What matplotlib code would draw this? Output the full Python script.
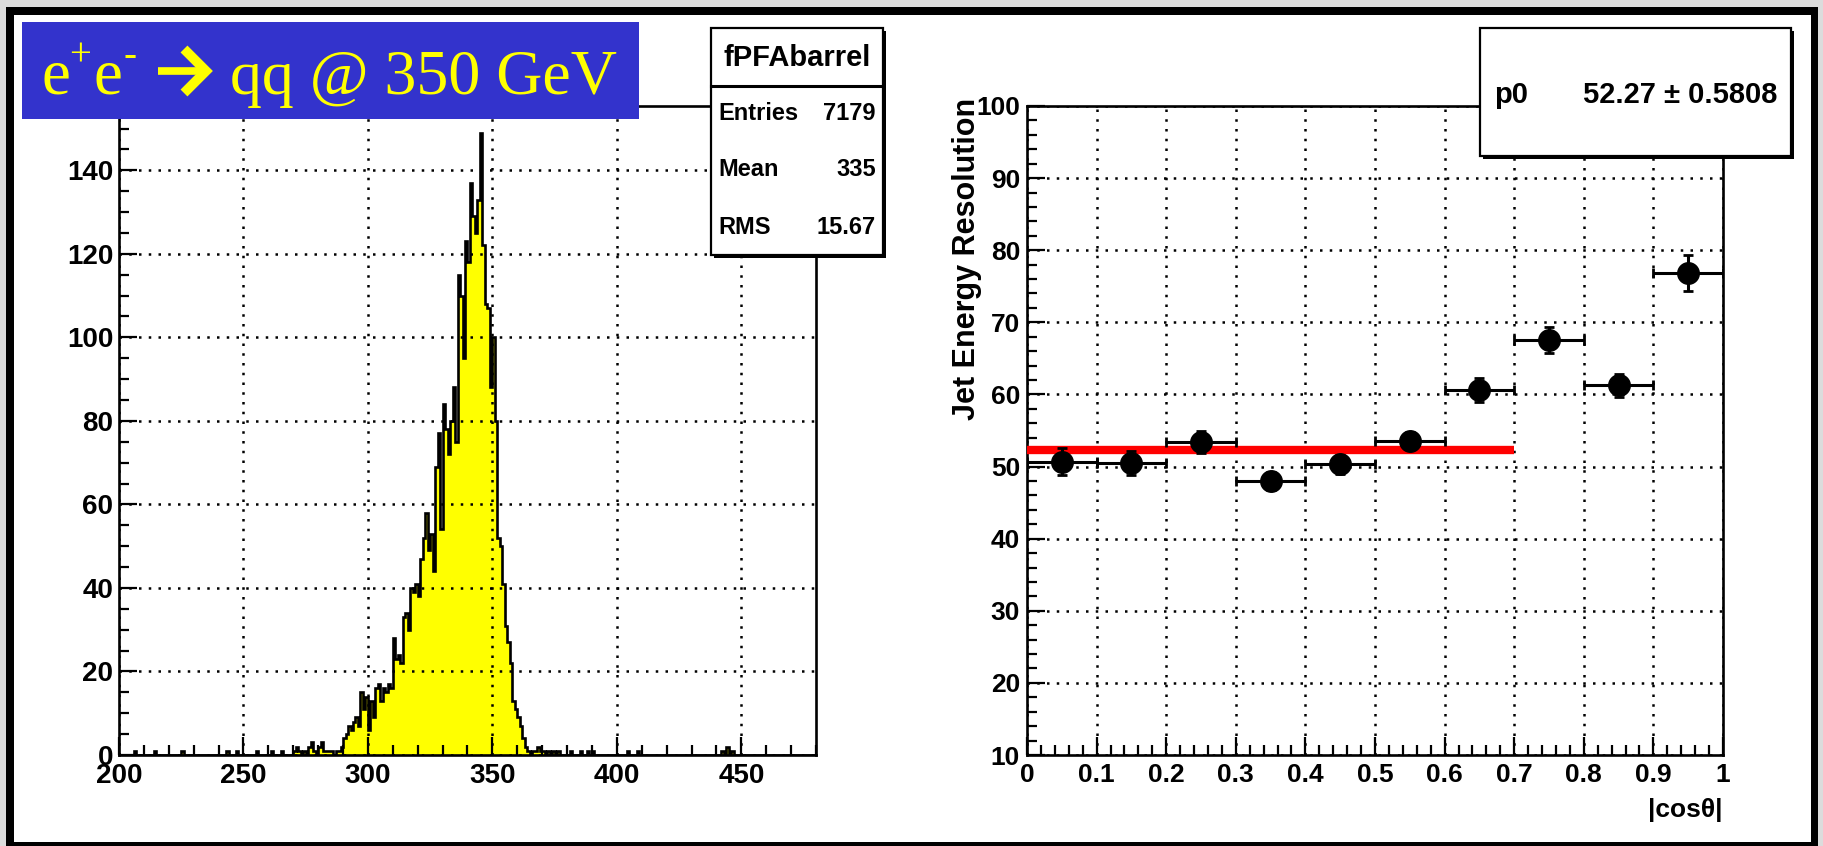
import numpy as np
import matplotlib
matplotlib.use("Agg")
import matplotlib.pyplot as plt
from matplotlib.patches import Rectangle
from matplotlib.lines import Line2D
from matplotlib.ticker import MultipleLocator, FuncFormatter

# ---------------- data ----------------
# left: histogram of reconstructed energy (1 GeV bins), main block
core_start = 284
core_counts = [1, 1, 0, 1, 1, 2, 4, 5, 7, 6, 8, 9, 7, 15, 11, 14, 6, 13, 9, 16,
               17, 13, 16, 15, 17, 16, 28, 23, 24, 22, 33, 34, 30, 40, 39, 41, 38, 47, 52, 58,
               49, 53, 44, 69, 77, 54, 84, 78, 72, 80, 88, 75, 115, 110, 95, 123, 118, 137, 129, 125,
               133, 149, 122, 108, 107, 88, 100, 80, 52, 50, 41, 31, 27, 22, 13, 11, 9, 7, 4, 2,
               1, 0, 1]
# scattered low-count bins outside the peak
tail_bins = [206, 214, 225, 243, 247, 255, 261, 265, 270, 271, 272, 274, 276, 277, 278, 280,
             281, 282, 283, 367, 368, 369, 370, 372, 374, 376, 381, 385, 388, 390, 404, 408,
             442, 444, 446]
tail_counts = [1, 1, 1, 1, 1, 1, 1, 1, 1, 2, 1, 1, 2, 3, 1, 2,
               3, 1, 1, 1, 2, 1, 1, 1, 1, 1, 1, 1, 1, 1, 1, 1,
               1, 2, 1]
hist_lo, hist_hi = 200, 480

stats_title = "fPFAbarrel"
stats_rows = [("Entries", "7179"), ("Mean", "335"), ("RMS", "15.67")]

# right: jet energy resolution vs |cos theta|
cos_centers = [0.05, 0.15, 0.25, 0.35, 0.45, 0.55, 0.65, 0.75, 0.85, 0.95]
cos_halfwidth = [0.05] * 10
resolution = [50.7, 50.5, 53.4, 48.0, 50.3, 53.6, 60.6, 67.6, 61.3, 76.8]
resolution_err = [1.9, 1.7, 1.5, 1.2, 1.3, 1.2, 1.7, 1.8, 1.6, 2.5]
fit_p0 = 52.27
fit_p0_err = 0.5808
fit_range = [0.0, 0.7]

# ---------------- figure ----------------
W, H = 1824, 846
fig = plt.figure(figsize=(W / 100, H / 100), dpi=100)
fig.patch.set_facecolor("#dcdcdc")

def fx(px):
    return px / W

def fy(py):
    return 1 - py / H

# black frame and white canvas (behind everything)
fig.patches.append(Rectangle((fx(6), fy(846)), fx(1818) - fx(6), fy(7) - fy(846),
                             transform=fig.transFigure, facecolor="black", edgecolor="none", zorder=-20))
fig.patches.append(Rectangle((fx(14), fy(842)), fx(1811) - fx(14), fy(15) - fy(842),
                             transform=fig.transFigure, facecolor="white", edgecolor="none", zorder=-19))

FONT = "Liberation Sans"
grid_style = dict(color="black", linestyle=(0, (1, 2.9)), linewidth=1.8)

def style_axes(ax):
    for s in ax.spines.values():
        s.set_linewidth(1.9)
    ax.tick_params(which="both", direction="in", top=False, right=False, width=1.6)
    ax.tick_params(which="major", length=13)
    ax.tick_params(which="minor", length=7)
    ax.grid(True, which="major", **grid_style)
    ax.set_axisbelow(False)

fmt = FuncFormatter(lambda v, p: f"{v:g}")

# ---------------- left panel ----------------
axL = fig.add_axes([fx(119), fy(755), fx(816) - fx(119), fy(106) - fy(755)])
edges = np.arange(hist_lo, hist_hi + 1, 1)
counts = np.zeros(len(edges) - 1)
counts[core_start - hist_lo: core_start - hist_lo + len(core_counts)] = core_counts
for b, c in zip(tail_bins, tail_counts):
    counts[b - hist_lo] = c
axL.stairs(counts, edges, fill=True, color="#ffff00", zorder=2)
axL.stairs(counts, edges, fill=False, color="black", linewidth=1.9, zorder=3)
axL.set_xlim(hist_lo, hist_hi)
axL.set_ylim(0, 155.4)
axL.xaxis.set_major_locator(MultipleLocator(50))
axL.xaxis.set_minor_locator(MultipleLocator(10))
axL.yaxis.set_major_locator(MultipleLocator(20))
axL.yaxis.set_minor_locator(MultipleLocator(5))
style_axes(axL)
axL.tick_params(axis="both", labelsize=20, pad=6)
axL.tick_params(axis="y", pad=4)
axL.xaxis.set_major_formatter(fmt)
axL.yaxis.set_major_formatter(fmt)
for lab in axL.get_xticklabels() + axL.get_yticklabels():
    lab.set_fontfamily(FONT)
    lab.set_fontweight("bold")

# ---------------- right panel ----------------
axR = fig.add_axes([fx(1027), fy(755), fx(1723) - fx(1027), fy(106) - fy(755)])
axR.plot(fit_range, [fit_p0, fit_p0], color="#ff0000", linewidth=6, zorder=3,
         solid_capstyle="butt")
axR.errorbar(cos_centers, resolution, xerr=cos_halfwidth, yerr=resolution_err,
             fmt="o", color="black", markersize=15.5, elinewidth=2.2, capsize=3.4,
             capthick=2.0, zorder=4)
axR.set_xlim(0, 1)
axR.set_ylim(10, 100)
axR.xaxis.set_major_locator(MultipleLocator(0.1))
axR.xaxis.set_minor_locator(MultipleLocator(0.02))
axR.yaxis.set_major_locator(MultipleLocator(10))
axR.yaxis.set_minor_locator(MultipleLocator(2))
style_axes(axR)
axR.tick_params(axis="both", labelsize=19, pad=6)
axR.tick_params(axis="y", pad=5)
axR.xaxis.set_major_formatter(fmt)
axR.yaxis.set_major_formatter(fmt)
for lab in axR.get_xticklabels() + axR.get_yticklabels():
    lab.set_fontfamily(FONT)
    lab.set_fontweight("bold")

fig.text(fx(1723), fy(810), "|cosθ|", ha="right", va="center", fontsize=19,
         fontweight="bold", family=FONT)
fig.text(fx(967), fy(98), "Jet Energy Resolution", rotation=90, ha="center", va="top",
         fontsize=22, fontweight="bold", family=FONT)

# ---------------- stat boxes ----------------
def box(x0, y0, x1, y1):
    fig.patches.append(Rectangle((fx(x0 + 3), fy(y1 + 3)), fx(x1) - fx(x0), fy(y0) - fy(y1),
                                 transform=fig.transFigure, facecolor="black",
                                 edgecolor="none", zorder=5))
    fig.patches.append(Rectangle((fx(x0), fy(y1)), fx(x1) - fx(x0), fy(y0) - fy(y1),
                                 transform=fig.transFigure, facecolor="white",
                                 edgecolor="black", linewidth=1.6, zorder=6))

box(711, 28, 883, 255)
fig.add_artist(Line2D([fx(711), fx(883)], [fy(86), fy(86)], transform=fig.transFigure,
                      color="black", linewidth=2.2, zorder=7))
fig.text(fx(797), fy(58), stats_title, ha="center", va="center", fontsize=21,
         fontweight="bold", family=FONT, zorder=8)
for (name, val), yy in zip(stats_rows, [114, 170, 228]):
    fig.text(fx(718), fy(yy), name, ha="left", va="center", fontsize=17,
             fontweight="bold", family=FONT, zorder=8)
    fig.text(fx(876), fy(yy), val, ha="right", va="center", fontsize=17,
             fontweight="bold", family=FONT, zorder=8)

box(1480, 28, 1791, 156)
fig.text(fx(1494), fy(95), "p0", ha="left", va="center", fontsize=21,
         fontweight="bold", family=FONT, zorder=8)
fig.text(fx(1777), fy(95), f"{fit_p0:.2f} ± {fit_p0_err:.4f}", ha="right", va="center",
         fontsize=21, fontweight="bold", family=FONT, zorder=8)

# ---------------- title banner ----------------
fig.patches.append(Rectangle((fx(22), fy(119)), fx(639) - fx(22), fy(22) - fy(119),
                             transform=fig.transFigure, facecolor="#3333cc",
                             edgecolor="none", zorder=9))
SERIF = "Liberation Serif"
YEL = "#ffff00"
base = fy(94)
fig.text(fx(42), base, "e", ha="left", va="baseline", fontsize=47, color=YEL,
         family=SERIF, zorder=10)
fig.text(fx(69), fy(66), "+", ha="left", va="baseline", fontsize=28, color=YEL,
         family=SERIF, zorder=10)
fig.text(fx(94), base, "e", ha="left", va="baseline", fontsize=47, color=YEL,
         family=SERIF, zorder=10)
fig.text(fx(124), fy(66), "-", ha="left", va="baseline", fontsize=28, color=YEL,
         family=SERIF, zorder=10)
# bold arrow
fig.add_artist(Line2D([fx(158), fx(203)], [fy(71), fy(71)], transform=fig.transFigure,
                      color=YEL, linewidth=5.5, solid_capstyle="butt", zorder=10))
fig.add_artist(Line2D([fx(184), fx(206), fx(184)], [fy(49), fy(71), fy(93)],
                      transform=fig.transFigure, color=YEL, linewidth=7,
                      solid_joinstyle="miter", solid_capstyle="butt", zorder=10))
fig.text(fx(230), base, "qq @ 350 GeV", ha="left", va="baseline", fontsize=46,
         color=YEL, family=SERIF, zorder=10)

fig.savefig("out.png", dpi=100, facecolor=fig.get_facecolor())
